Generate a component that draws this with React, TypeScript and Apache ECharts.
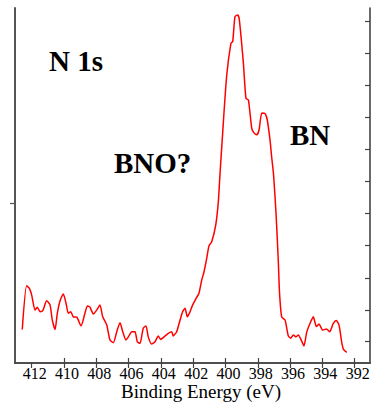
import React, { useEffect, useRef } from "react";
import * as echarts from "echarts";

// Binding energy (eV) and intensity (arb. units)
const energy = [
  412.58, 412.31, 412.14, 412.0, 411.79, 411.65, 411.48, 411.31, 411.07, 410.86,
  410.72, 410.55, 410.41, 410.24, 410.04, 409.87, 409.73, 409.58, 409.42, 409.21,
  408.94, 408.7, 408.55, 408.39, 408.18, 407.97, 407.77, 407.6, 407.35, 407.15,
  406.94, 406.73, 406.53, 406.36, 406.16, 406.01, 405.8, 405.6, 405.46, 405.29,
  405.09, 404.92, 404.78, 404.57, 404.36, 404.16, 404.01, 403.8, 403.54, 403.33,
  403.23, 403.02, 402.81, 402.65, 402.5, 402.36, 402.19, 402.03, 401.82, 401.64,
  401.47, 401.33, 401.16, 401.02, 400.85, 400.6, 400.44, 400.34, 400.18, 399.93,
  399.66, 399.55, 399.41, 399.24, 399.14, 398.89, 398.73, 398.58, 398.37, 398.23,
  398.06, 397.92, 397.75, 397.55, 397.41, 397.24, 397.14, 397.02, 396.87, 396.73,
  396.65, 396.52, 396.31, 396.11, 395.96, 395.8, 395.63, 395.49, 395.28, 395.14,
  394.97, 394.76, 394.56, 394.37, 394.21, 393.98, 393.75, 393.54, 393.34, 393.14,
  392.97, 392.8, 392.69, 392.49,
];
const intensity = [
  1.04, 2.39, 2.31, 2.11, 1.64, 1.73, 1.59, 1.62, 1.93, 1.8,
  1.33, 1.04, 1.54, 1.93, 2.14, 1.85, 1.54, 1.59, 1.43, 1.42,
  1.15, 1.54, 1.77, 1.73, 1.52, 1.64, 1.8, 1.43, 1.18, 0.71,
  0.63, 0.97, 1.25, 0.97, 0.71, 0.81, 0.97, 0.97, 0.66, 0.61,
  1.08, 1.15, 0.81, 0.59, 0.66, 0.84, 0.73, 0.81, 0.92, 0.97,
  0.84, 0.97, 1.33, 1.59, 1.7, 1.43, 1.59, 1.8, 2.0, 2.16,
  2.57, 2.82, 3.24, 3.63, 3.76, 4.28, 5.0, 5.83, 7.07, 8.87,
  9.91, 9.96, 10.73, 10.78, 10.63, 9.29, 8.2, 8.15, 7.27, 7.13,
  7.07, 7.22, 7.75, 7.73, 7.53, 6.91, 6.39, 5.83, 4.65, 3.19,
  2.16, 1.43, 1.33, 0.84, 0.77, 0.87, 0.81, 0.87, 0.68, 0.53,
  0.95, 1.23, 1.43, 1.13, 1.21, 1.02, 1.05, 0.97, 1.21, 1.32,
  1.18, 0.64, 0.42, 0.33,
];

// Tick positions
const xLabelValues = [412, 410, 408, 406, 404, 402, 400, 398, 396, 394, 392];
const xBottomTicks = [410, 408, 406, 404, 402, 400, 398, 396, 394, 392];
const xTopTicks = [412, 410, 408, 406, 404, 402, 400, 398, 396, 394, 392];
const yLeftTicks = [4.96];
const yRightTicks = [0.68, 1.65, 2.64, 3.64, 4.64, 5.62, 6.63, 7.62, 8.61, 9.61, 10.6];

const xMin = 391.05;
const xMax = 413.03;
const yMin = 0;
const yMax = 11;

export default function App() {
  const ref = useRef<HTMLDivElement>(null);
  useEffect(() => {
    if (!ref.current) return;
    const chart = echarts.init(ref.current, undefined, { renderer: "svg" });
    const serif = "'Liberation Serif', 'Times New Roman', serif";
    const frame = { color: "#444", width: 1.6 };
    const data = energy.map((e, i) => [e, intensity[i]]);
    chart.setOption({
      animation: false,
      backgroundColor: "#fff",
      grid: {
        left: 15,
        right: 1,
        top: 8,
        bottom: 39,
        containLabel: false,
        outerBoundsMode: "none",
      },
      xAxis: [
        {
          type: "value",
          position: "bottom",
          min: xMin,
          max: xMax,
          inverse: true,
          axisLine: { show: true, lineStyle: frame },
          axisTick: {
            show: true,
            inside: true,
            length: 5,
            customValues: xBottomTicks,
            lineStyle: { color: "#444", width: 1.2 },
          },
          axisLabel: {
            show: true,
            customValues: xLabelValues,
            fontFamily: serif,
            fontSize: 16,
            lineHeight: 15,
            color: "#000",
            margin: 3,
            padding: [0, 0, 0, 6],
            hideOverlap: false,
          },
          splitLine: { show: false },
        },
        {
          type: "value",
          position: "top",
          min: xMin,
          max: xMax,
          inverse: true,
          axisLine: { show: true, lineStyle: frame },
          axisTick: {
            show: true,
            inside: true,
            length: 5,
            customValues: xTopTicks,
            lineStyle: { color: "#444", width: 1.2 },
          },
          axisLabel: { show: false },
          splitLine: { show: false },
        },
      ],
      yAxis: [
        {
          type: "value",
          position: "left",
          min: yMin,
          max: yMax,
          axisLine: { show: true, lineStyle: { color: "#555", width: 2 } },
          axisTick: {
            show: true,
            inside: false,
            length: 5,
            customValues: yLeftTicks,
            lineStyle: { color: "#555", width: 1.2 },
          },
          axisLabel: { show: false },
          splitLine: { show: false },
        },
        {
          type: "value",
          position: "right",
          min: yMin,
          max: yMax,
          axisLine: { show: true, lineStyle: frame },
          axisTick: {
            show: true,
            inside: true,
            length: 5,
            customValues: yRightTicks,
            lineStyle: { color: "#444", width: 1.2 },
          },
          axisLabel: { show: false },
          splitLine: { show: false },
        },
      ],
      series: [
        {
          type: "line",
          xAxisIndex: 0,
          yAxisIndex: 0,
          data,
          showSymbol: false,
          smooth: 0.2,
          lineStyle: { color: "#ff0000", width: 1.5 },
        },
      ],
      graphic: [
        {
          type: "text",
          x: 49,
          y: 61,
          style: {
            text: "N 1s",
            font: `bold 29px ${serif}`,
            fill: "#000",
            verticalAlign: "middle",
          },
        },
        {
          type: "text",
          x: 114,
          y: 163,
          style: {
            text: "BNO?",
            font: `bold 29px ${serif}`,
            fill: "#000",
            verticalAlign: "middle",
          },
        },
        {
          type: "text",
          x: 290,
          y: 135,
          style: {
            text: "BN",
            font: `bold 29px ${serif}`,
            fill: "#000",
            verticalAlign: "middle",
          },
        },
        {
          type: "text",
          x: 201,
          y: 391.5,
          style: {
            text: "Binding Energy (eV)",
            font: `19px ${serif}`,
            lineHeight: 16,
            fill: "#000",
            align: "center",
            verticalAlign: "middle",
          },
        },
      ],
    });
    return () => chart.dispose();
  }, []);
  return (
    <div
      ref={ref}
      style={{ position: "fixed", left: 0, top: 0, width: 371, height: 402 }}
    />
  );
}
